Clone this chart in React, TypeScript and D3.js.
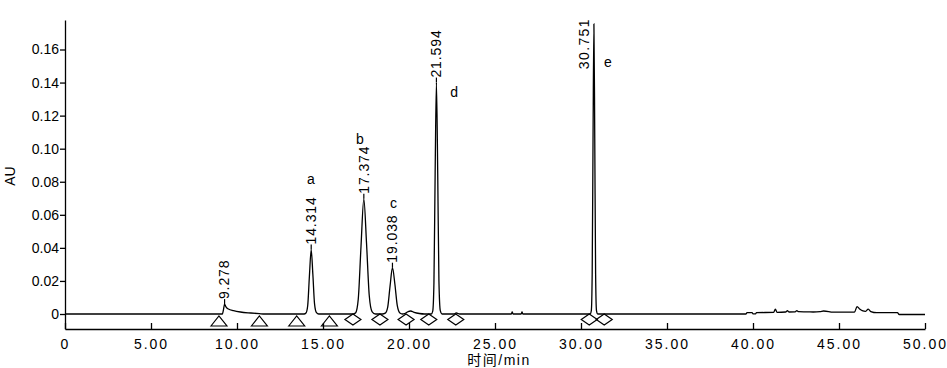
import { axisBottom, axisLeft, curveMonotoneX, line, scaleLinear, select } from "d3";
import { useEffect, useRef } from "react";

// chromatogram trace, [time (min), AU]
const trace: [number, number][] = [
  [0, 0], [9.15, 0], [9.22, 0.003], [9.278, 0.006], [9.35, 0.0045], [9.5, 0.003],
  [9.8, 0.002], [10.2, 0.0012], [10.8, 0.0006], [11.3, 0.0002], [11.6, 0],
  [13.9, 0], [14.01, 0.0006], [14.11, 0.005], [14.21, 0.023], [14.314, 0.039],
  [14.41, 0.024], [14.51, 0.006], [14.62, 0.0008], [14.75, 0],
  [16.75, 0], [16.9, 0.0008], [17.05, 0.009], [17.21, 0.041], [17.374, 0.0697],
  [17.53, 0.043], [17.69, 0.011], [17.85, 0.0015], [18.05, 0],
  [18.45, 0], [18.62, 0.0005], [18.76, 0.004], [18.9, 0.017], [19.038, 0.028],
  [19.18, 0.018], [19.32, 0.005], [19.47, 0.0006], [19.62, 0],
  [19.75, 0.0002], [19.95, 0.0015], [20.1, 0.0018], [20.3, 0.001], [20.6, 0.0003], [20.9, 0],
  [21.3, 0], [21.38, 0.0017], [21.45, 0.019], [21.52, 0.085], [21.594, 0.14],
  [21.67, 0.085], [21.74, 0.02], [21.82, 0.002], [21.92, 0],
  [22.6, 0], [22.75, 0.0006], [22.95, 0],
  [25.95, 0], [26.0, 0.0012], [26.05, 0], [26.52, 0], [26.57, 0.0012], [26.62, 0],
  [30.53, 0], [30.6, 0.002], [30.65, 0.024], [30.7, 0.106], [30.751, 0.1755],
  [30.8, 0.106], [30.85, 0.024], [30.9, 0.002], [30.97, 0],
  [39.6, 0], [39.65, 0.0008], [39.95, 0.0008], [40.0, 0.0001], [40.15, 0.0001],
  [40.2, 0.0008], [41.2, 0.001], [41.3, 0.003], [41.4, 0.001], [41.9, 0.0012],
  [42.0, 0.002], [42.1, 0.0012], [42.45, 0.0013], [42.55, 0.002], [42.65, 0.0014],
  [43.2, 0.0013], [43.5, 0.0012], [43.9, 0.0014], [44.1, 0.0018], [44.4, 0.0015],
  [44.6, 0.0011], [45.9, 0.0011], [46.05, 0.0045], [46.2, 0.003], [46.35, 0.002],
  [46.55, 0.0016], [46.7, 0.003], [46.85, 0.0015], [47.2, 0.0008], [48.4, 0.0008],
  [48.5, -0.0003], [50, -0.0003],
];

const peakTimes = [9.278, 14.314, 17.374, 19.038, 21.594, 30.751];
const peakHeights = [0.006, 0.039, 0.0697, 0.028, 0.14, 0.1755];

// compound letters, [letter, time, AU]
const compounds: [string, number, number][] = [
  ["a", 14.3, 0.0818],
  ["b", 17.15, 0.106],
  ["c", 19.1, 0.067],
  ["d", 22.62, 0.1344],
  ["e", 31.57, 0.1525],
];

// integration start/end marks
const triangleMarks = [8.95, 11.3, 13.47, 15.37];
const diamondMarks = [16.74, 18.31, 19.83, 21.15, 22.72, 30.48, 31.35];

const xTicks = [0, 5, 10, 15, 20, 25, 30, 35, 40, 45, 50];
const yTicks = [0, 0.02, 0.04, 0.06, 0.08, 0.1, 0.12, 0.14, 0.16];

const FONT = "'Liberation Sans', Arial, 'Noto Sans CJK SC', sans-serif";

const x = scaleLinear().domain([0, 50]).range([65, 925]);
const y = scaleLinear().domain([0, 0.16]).range([314, 49.5]);
const axisTop = 20;
const axisBottomY = 329;
const yAxisScale = scaleLinear()
  .domain([y.invert(axisBottomY), y.invert(axisTop)])
  .range([axisBottomY, axisTop]);

function XAxis() {
  const ref = useRef<SVGGElement>(null);
  useEffect(() => {
    if (!ref.current) return;
    const g = select(ref.current);
    g.call(
      axisBottom(x)
        .tickValues(xTicks)
        .tickFormat((d) => (+d === 0 ? "0" : (+d).toFixed(2)))
        .tickSize(-6)
        .tickSizeOuter(0)
        .tickPadding(10)
    );
    g.attr("font-family", FONT).attr("font-size", 14);
    g.selectAll("text").attr("letter-spacing", 2).attr("fill", "#000");
    g.selectAll("path,line").attr("stroke", "#000").attr("stroke-width", 1.3);
  }, []);
  return <g ref={ref} transform={`translate(0, ${axisBottomY})`} />;
}

function YAxis() {
  const ref = useRef<SVGGElement>(null);
  useEffect(() => {
    if (!ref.current) return;
    const g = select(ref.current);
    g.call(
      axisLeft(yAxisScale)
        .tickValues(yTicks)
        .tickFormat((d) => (+d === 0 ? "0" : (+d).toFixed(2)))
        .tickSize(5)
        .tickSizeOuter(0)
        .tickPadding(1)
    );
    g.attr("font-family", FONT).attr("font-size", 14);
    g.selectAll("text").attr("fill", "#000");
    g.selectAll("path,line").attr("stroke", "#000").attr("stroke-width", 1.3);
  }, []);
  return <g ref={ref} transform={`translate(${x(0)}, 0)`} />;
}

export default function App() {
  const path = line<[number, number]>()
    .x((d) => x(d[0]))
    .y((d) => y(d[1]))
    .curve(curveMonotoneX)(trace);
  const base = y(0);

  return (
    <svg
      width={947}
      height={368}
      style={{ position: "absolute", left: 0, top: 0, background: "#fff" }}
      fontFamily={FONT}
      fontSize={14}
    >
      <path d={path ?? ""} fill="none" stroke="#000" strokeWidth={1.3} />
      <XAxis />
      <YAxis />

      {peakTimes.map((t, i) => {
        const px = x(t);
        const top = y(peakHeights[i]);
        const label = t.toFixed(3);
        const fits = top - 5 - 52 > 12;
        if (fits) {
          return (
            <g key={label}>
              <line x1={px} x2={px} y1={top} y2={top - 5} stroke="#000" strokeWidth={1.2} />
              <text
                transform={`translate(${px}, ${top - 5}) rotate(-90)`}
                dy="0.35em"
                letterSpacing={0.9}
              >
                {label}
              </text>
            </g>
          );
        }
        return (
          <text
            key={label}
            transform={`translate(${px - 10}, ${axisTop - 2}) rotate(-90)`}
            dy="0.35em"
            textAnchor="end"
            letterSpacing={1.4}
          >
            {label}
          </text>
        );
      })}

      {compounds.map(([name, t, v]) => (
        <text key={name} x={x(t)} y={y(v)} dy="0.35em" textAnchor="middle">
          {name}
        </text>
      ))}

      {triangleMarks.map((t) => {
        const cx = x(t);
        return (
          <path
            key={`tri-${t}`}
            d={`M${cx - 8},${base + 12} L${cx},${base + 2} L${cx + 8},${base + 12} Z`}
            fill="none"
            stroke="#000"
            strokeWidth={1.2}
          />
        );
      })}
      {diamondMarks.map((t) => {
        const cx = x(t);
        const cy = base + 5.5;
        return (
          <path
            key={`dia-${t}`}
            d={`M${cx - 8},${cy} L${cx},${cy - 5.5} L${cx + 8},${cy} L${cx},${cy + 5.5} Z`}
            fill="none"
            stroke="#000"
            strokeWidth={1.2}
          />
        );
      })}

      <text x={499} y={365} textAnchor="middle" letterSpacing={1.5}>
        时间/min
      </text>
      <text transform="translate(10, 176) rotate(-90)" dy="0.35em" textAnchor="middle">
        AU
      </text>
    </svg>
  );
}
